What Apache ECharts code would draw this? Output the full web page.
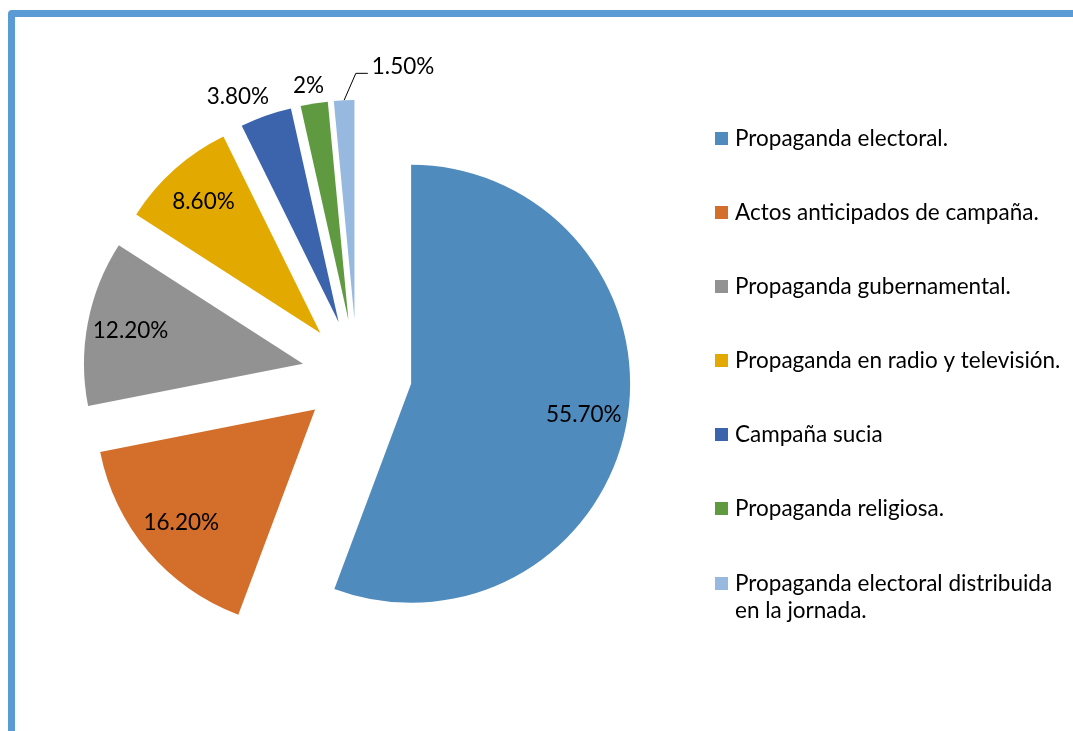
<!DOCTYPE html>
<html>
<head>
<meta charset="utf-8">
<script src="https://cdn.jsdelivr.net/npm/echarts@6/dist/echarts.min.js"></script>
<style>
  html, body { margin: 0; padding: 0; background: #fff; overflow: hidden; }
  #frame {
    position: absolute;
    left: 8px;
    top: 10px;
    width: 1200px;
    height: 900px;
    border: 7px solid #5b9bd5;
    border-radius: 4px;
    box-sizing: border-box;
  }
  #chart { position: absolute; left: 0; top: 0; width: 1073px; height: 731px; }
</style>
</head>
<body>
<div id="frame"></div>
<div id="chart"></div>
<script>
const categories = [
  'Propaganda electoral.',
  'Actos anticipados de campaña.',
  'Propaganda gubernamental.',
  'Propaganda en radio y televisión.',
  'Campaña sucia',
  'Propaganda religiosa.',
  'Propaganda electoral distribuida en la jornada.'
]
const values = [55.7, 16.2, 12.2, 8.6, 3.8, 2, 1.5]
const valueLabels = ['55.70%', '16.20%', '12.20%', '8.60%', '3.80%', '2%', '1.50%']
const colors = ['#4f8bbd', '#d36e2b', '#929292', '#e2aa00', '#3b64ad', '#5f9a40', '#97b9e0']

// slices drawn with the label sitting outside the wedge
const outsideIdx = [4, 5, 6]

const fontFamily = 'Lato, "Liberation Sans", sans-serif'
const fontSize = 22.5
const center = [357, 374]
const explode = 55

const chart = echarts.init(document.getElementById('chart'))

const pieData = categories.map((name, i) => ({
  name,
  value: values[i],
  selected: true,
  itemStyle: { color: colors[i] },
  label: { show: outsideIdx.includes(i) },
  labelLine: i === 6 ? { show: true, length: 27 } : { show: false }
}))

// transparent twin, only used to place the inside labels further out
const labelData = categories.map((name, i) => ({
  name,
  value: values[i],
  selected: true,
  label: { show: !outsideIdx.includes(i) }
}))

const legendText = {
  fontSize,
  color: '#000',
  fontFamily,
  lineHeight: 27,
  padding: [0, 0, 0, 2]
}

chart.setOption({
  animation: false,
  textStyle: { fontFamily },
  legend: [
    {
      orient: 'vertical',
      left: 715,
      top: 125,
      padding: 0,
      itemWidth: 13,
      itemHeight: 13,
      itemGap: 47,
      icon: 'rect',
      selectedMode: false,
      data: categories.slice(0, 6),
      textStyle: legendText
    },
    {
      // two-line entry: square kept level with the first line
      orient: 'vertical',
      left: 715,
      top: 570,
      padding: 0,
      itemWidth: 13,
      itemHeight: 40,
      icon: 'path://M0,0h13v13h-13zM0,40h0.01v0.01h-0.01z',
      selectedMode: false,
      formatter: name => name.replace('distribuida ', 'distribuida\n'),
      data: categories.slice(6),
      textStyle: legendText
    }
  ],
  series: [
    {
      type: 'pie',
      center,
      radius: 219,
      startAngle: 90,
      selectedMode: 'multiple',
      selectedOffset: explode,
      avoidLabelOverlap: false,
      silent: true,
      emphasis: { disabled: true },
      label: {
        position: 'outside',
        fontSize,
        color: '#000',
        fontFamily,
        distanceToLabelLine: 4,
        formatter: p => valueLabels[p.dataIndex]
      },
      labelLine: {
        length: 20,
        length2: 0,
        lineStyle: { color: '#000', width: 1 }
      },
      labelLayout: p => {
        if (p.dataIndex === 6 && p.labelLinePoints) {
          const pts = p.labelLinePoints
          const elbow = [pts[1][0] + 13, pts[1][1]]
          const end = [elbow[0] + 12, elbow[1]]
          const r = p.labelRect
          return {
            dx: end[0] + 4 - r.x,
            dy: elbow[1] - 7 - (r.y + r.height / 2),
            labelLinePoints: [pts[0], elbow, end]
          }
        }
        if (p.dataIndex === 4) return { dx: 14 }
        if (p.dataIndex === 5) return { dx: 17, dy: 2 }
      },
      data: pieData
    },
    {
      type: 'pie',
      center,
      radius: 345,
      startAngle: 90,
      selectedMode: 'multiple',
      selectedOffset: explode,
      silent: true,
      emphasis: { disabled: true },
      itemStyle: { color: 'rgba(0,0,0,0)' },
      label: {
        position: 'inside',
        fontSize,
        color: '#000',
        fontFamily,
        formatter: p => valueLabels[p.dataIndex]
      },
      labelLine: { show: false },
      data: labelData
    }
  ]
})
</script>
</body>
</html>
